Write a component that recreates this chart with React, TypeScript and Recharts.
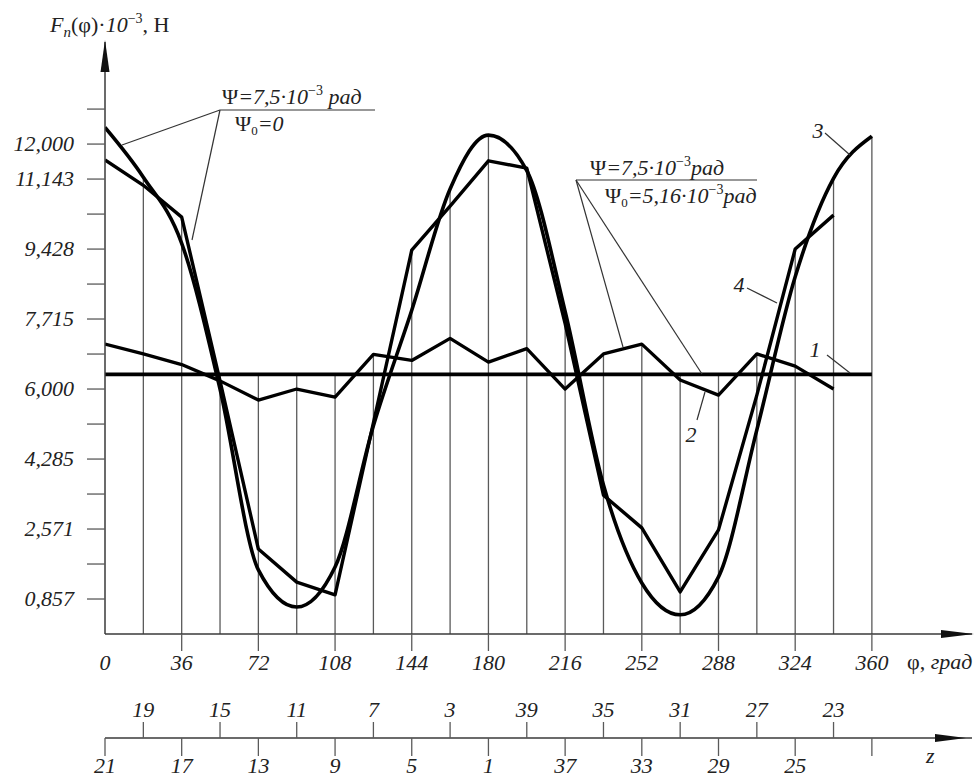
import { ComposedChart, Line, XAxis, YAxis, ReferenceLine } from "recharts";

// angle of rotation, degrees (every 18°)
const phi = [0, 18, 36, 54, 72, 90, 108, 126, 144, 162, 180, 198, 216, 234, 252, 270, 288, 306, 324, 342, 360];

// 1 - constant level
const line1Level = 6.36;
// 2 - zig-zag curve
const curve2 = [7.1, 6.86, 6.6, 6.2, 5.73, 6.0, 5.8, 6.85, 6.7, 7.24, 6.66, 6.99, 6.0, 6.86, 7.1, 6.22, 5.85, 6.86, 6.56, 6.0];
// 3 - smooth curve
const curve3 = [12.41, 11.19, 9.57, 6.0, 1.57, 0.66, 1.64, 5.1, 7.93, 10.9, 12.22, 11.35, 7.9, 3.65, 1.25, 0.47, 1.4, 5.0, 8.75, 11.16, 12.19];
// 4 - polyline
const curve4 = [11.61, 10.99, 10.21, 6.2, 2.08, 1.27, 0.96, 5.17, 9.4, 10.48, 11.59, 11.41, 7.6, 3.4, 2.6, 1.03, 2.55, 5.85, 9.43, 10.26];

const xTicks = [0, 36, 72, 108, 144, 180, 216, 252, 288, 324, 360];
const yTicks = [0.857, 1.714, 2.571, 3.428, 4.285, 5.142, 6.0, 6.857, 7.715, 8.571, 9.428, 10.285, 11.143, 12.0, 12.857];
const yTickLabels = ["0,857", "", "2,571", "", "4,285", "", "6,000", "", "7,715", "", "9,428", "", "11,143", "12,000", ""];

// tooth numbers on the z scale
const zUpper = ["19", "15", "11", "7", "3", "39", "35", "31", "27", "23"];
const zLower = ["21", "17", "13", "9", "5", "1", "37", "33", "29", "25", ""];

const FONT = "Liberation Serif";
const AXIS = "#3a3a3a";
const GRID = "#5a5a5a";

const data = phi.map((p, i) => ({
  phi: p,
  c1: line1Level,
  c2: curve2[i] ?? null,
  c3: curve3[i] ?? null,
  c4: curve4[i] ?? null,
}));

// ordinate lines reach up to the highest curve at each angle
const ordinates = phi.slice(1).map((p, k) => {
  const i = k + 1;
  const vals = [line1Level, curve2[i], curve3[i], curve4[i]].filter((v) => v != null) as number[];
  return { x: p, top: Math.max(...vals) };
});

const YTick = (props: any) => {
  const { x, y, payload } = props;
  const label = yTickLabels[yTicks.indexOf(payload.value)] ?? "";
  return (
    <text x={x} y={y} dy={7} textAnchor="end" fontFamily={FONT} fontStyle="italic" fontSize={22} fill="#222">
      {label}
    </text>
  );
};

const PhiTick = (props: any) => {
  const { x, y, payload } = props;
  return (
    <g>
      {payload.value !== 0 && <line x1={x} y1={y} x2={x} y2={y + 17} stroke={GRID} strokeWidth={1.3} />}
      <text x={x} y={y + 36} textAnchor="middle" fontFamily={FONT} fontStyle="italic" fontSize={22} fill="#222">
        {payload.value}
      </text>
    </g>
  );
};

const ZTick = (props: any) => {
  const { x, y, payload } = props;
  const i = phi.indexOf(payload.value);
  if (i % 2 === 0) {
    return (
      <g>
        <line x1={x} y1={y} x2={x} y2={y + 18} stroke={GRID} strokeWidth={1.3} />
        <text x={x} y={y + 35} textAnchor="middle" fontFamily={FONT} fontStyle="italic" fontSize={22} fill="#222">
          {zLower[i / 2]}
        </text>
      </g>
    );
  }
  return (
    <g>
      <line x1={x} y1={y} x2={x} y2={y - 16} stroke={GRID} strokeWidth={1.3} />
      <text x={x} y={y - 21} textAnchor="middle" fontFamily={FONT} fontStyle="italic" fontSize={22} fill="#222">
        {zUpper[(i - 1) / 2]}
      </text>
    </g>
  );
};

const txt = { fontFamily: FONT, fontSize: 22, fill: "#222" };

function Overlay() {
  const thin = { stroke: "#333", strokeWidth: 1.2 };
  return (
    <svg width={980} height={778} style={{ position: "absolute", left: 0, top: 0, pointerEvents: "none" }}>
      {/* arrowheads */}
      <polygon points="105,40 100.5,72 109.5,72" fill="#111" />
      <polygon points="974,634 941,630 941,638" fill="#111" />
      <polygon points="966,738 935,734 935,742" fill="#111" />

      {/* axis titles */}
      <text x={50} y={32} {...txt}>
        <tspan fontStyle="italic">F</tspan>
        <tspan fontStyle="italic" fontSize={15} dy={5}>n</tspan>
        <tspan dy={-5}>(φ)·</tspan>
        <tspan fontStyle="italic">10</tspan>
        <tspan fontSize={14} dy={-9}>−3</tspan>
        <tspan dy={9}>, Н</tspan>
      </text>
      <text x={907} y={669} {...txt}>
        φ, <tspan fontStyle="italic">град</tspan>
      </text>
      <text x={926} y={763} {...txt} fontStyle="italic">z</text>

      {/* annotation Ψ0 = 0 */}
      <line x1={220} y1={110} x2={375} y2={110} {...thin} />
      <line x1={220} y1={110} x2={122} y2={145} {...thin} />
      <line x1={220} y1={110} x2={192} y2={240} {...thin} />
      <text x={222} y={104} {...txt}>
        Ψ<tspan fontStyle="italic">=7,5·10</tspan>
        <tspan fontSize={14} dy={-9}>−3</tspan>
        <tspan dy={9} fontStyle="italic"> рад</tspan>
      </text>
      <text x={235} y={131} {...txt}>
        Ψ<tspan fontSize={13} dy={4}>0</tspan>
        <tspan dy={-4} fontStyle="italic">=0</tspan>
      </text>

      {/* annotation Ψ0 = 5,16e-3 */}
      <line x1={576} y1={180} x2={757} y2={180} {...thin} />
      <line x1={576} y1={180} x2={623} y2={347} {...thin} />
      <line x1={576} y1={180} x2={702} y2={374} {...thin} />
      <text x={590} y={175} {...txt}>
        Ψ<tspan fontStyle="italic">=7,5·10</tspan>
        <tspan fontSize={14} dy={-9}>−3</tspan>
        <tspan dy={9} fontStyle="italic">рад</tspan>
      </text>
      <text x={605} y={203} {...txt}>
        Ψ<tspan fontSize={13} dy={4}>0</tspan>
        <tspan dy={-4} fontStyle="italic">=5,16·10</tspan>
        <tspan fontSize={14} dy={-9}>−3</tspan>
        <tspan dy={9} fontStyle="italic">рад</tspan>
      </text>

      {/* curve numbers */}
      <line x1={827} y1={355} x2={850} y2={373} {...thin} />
      <text x={815} y={357} textAnchor="middle" {...txt} fontStyle="italic">1</text>
      <line x1={697} y1={420} x2={705} y2={392} {...thin} />
      <text x={691} y={442} textAnchor="middle" {...txt} fontStyle="italic">2</text>
      <line x1={825} y1={133} x2={850} y2={155} {...thin} />
      <text x={818} y={138} textAnchor="middle" {...txt} fontStyle="italic">3</text>
      <line x1={747} y1={288} x2={777} y2={303} {...thin} />
      <text x={739} y={292} textAnchor="middle" {...txt} fontStyle="italic">4</text>
    </svg>
  );
}

export default function App() {
  return (
    <div style={{ position: "absolute", left: 0, top: 0, width: 980, height: 778, background: "#fff" }}>
      <ComposedChart width={980} height={778} data={data} margin={{ top: 42, right: 8, left: 0, bottom: 0 }}>
        <XAxis
          dataKey="phi"
          type="number"
          domain={[0, 407]}
          allowDataOverflow
          ticks={xTicks}
          interval={0}
          height={104}
          tickSize={0}
          tickMargin={0}
          tickLine={false}
          axisLine={{ stroke: AXIS, strokeWidth: 1.5 }}
          tick={<PhiTick />}
        />
        <XAxis
          xAxisId="z"
          dataKey="phi"
          type="number"
          domain={[0, 407]}
          allowDataOverflow
          ticks={phi}
          interval={0}
          height={40}
          tickSize={0}
          tickMargin={0}
          tickLine={false}
          axisLine={{ stroke: AXIS, strokeWidth: 1.5 }}
          tick={<ZTick />}
        />
        <YAxis
          type="number"
          domain={[0, 14.5]}
          allowDataOverflow
          ticks={yTicks}
          interval={0}
          width={105}
          tickSize={18}
          tickMargin={13}
          tickLine={{ stroke: GRID, strokeWidth: 1.3 }}
          axisLine={{ stroke: AXIS, strokeWidth: 1.5 }}
          tick={<YTick />}
        />
        {ordinates.map((o) => (
          <ReferenceLine
            key={o.x}
            segment={[
              { x: o.x, y: 0 },
              { x: o.x, y: o.top },
            ]}
            stroke={GRID}
            strokeWidth={1.3}
          />
        ))}
        <Line dataKey="c1" type="linear" stroke="#000" strokeWidth={3.6} dot={false} isAnimationActive={false} />
        <Line dataKey="c2" type="linear" stroke="#000" strokeWidth={3.3} dot={false} isAnimationActive={false} strokeLinejoin="round" />
        <Line dataKey="c3" type="monotone" stroke="#000" strokeWidth={3.6} dot={false} isAnimationActive={false} />
        <Line dataKey="c4" type="linear" stroke="#000" strokeWidth={3.4} dot={false} isAnimationActive={false} strokeLinejoin="round" />
      </ComposedChart>
      <Overlay />
    </div>
  );
}
